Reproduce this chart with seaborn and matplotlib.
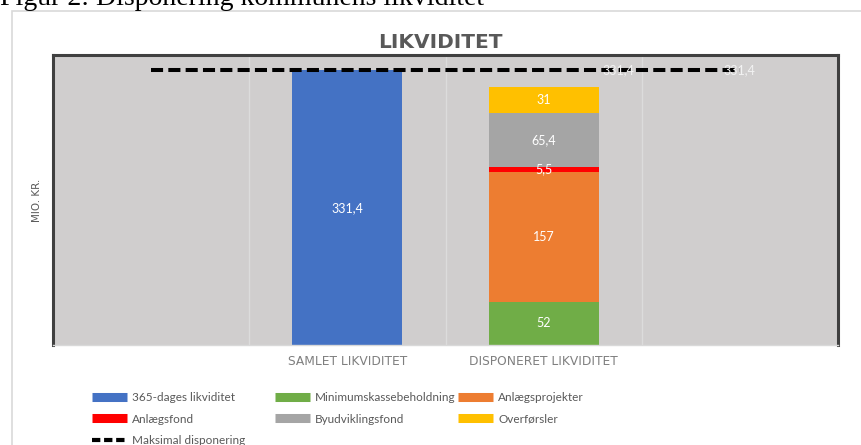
import numpy as np
import matplotlib
matplotlib.use("Agg")
import matplotlib.pyplot as plt
import seaborn as sns
from matplotlib.lines import Line2D
from matplotlib.patches import Rectangle

# ---------------- data ----------------
categories = ["blank_left", "SAMLET LIKVIDITET", "DISPONERET LIKVIDITET", "blank_right"]
tick_labels = ["", "SAMLET LIKVIDITET", "DISPONERET LIKVIDITET", ""]

likviditet_365 = [0, 331.4, 0, 0]
minimumskassebeholdning = [0, 0, 52, 0]
anlaegsprojekter = [0, 0, 157, 0]
anlaegsfond = [0, 0, 5.5, 0]
byudviklingsfond = [0, 0, 65.4, 0]
overfoersler = [0, 0, 31, 0]
maksimal_disponering = [331.4, 331.4, 331.4, 331.4]

series_names = ["365-dages likviditet", "Minimumskassebeholdning", "Anlægsprojekter",
                "Anlægsfond", "Byudviklingsfond", "Overførsler"]
line_name = "Maksimal disponering"
title = "LIKVIDITET"
ylabel = "MIO. KR."
caption = "Figur 2: Disponering kommunens likviditet"

# ---------------- style ----------------
colors = ["#4472C4", "#70AD47", "#ED7D31", "#FF0000", "#A5A5A5", "#FFC000"]
plt.rcParams["font.family"] = ["Lato", "DejaVu Sans"]


def fmt(v):
    return f"{v:g}".replace(".", ",")


fig = plt.figure(figsize=(8.61, 4.45), dpi=100)
fig.patch.set_facecolor("white")
ax = fig.add_axes([53 / 861, 100 / 445, 785 / 861, 290 / 445])
ax.set_facecolor("#D0CECE")

series = [likviditet_365, minimumskassebeholdning, anlaegsprojekter,
          anlaegsfond, byudviklingsfond, overfoersler]
bottom = np.zeros(len(categories))
for vals, col in zip(series, colors):
    sns.barplot(x=categories, y=vals, order=categories, color=col, width=0.56,
                bottom=bottom.copy(), saturation=1, errorbar=None, linewidth=0,
                ax=ax, zorder=2)
    for i, v in enumerate(vals):
        if v > 0:
            ax.text(i, bottom[i] + v / 2, fmt(v), ha="center", va="center",
                    color="white", fontsize=9, zorder=6)
    bottom = bottom + np.array(vals)

sns.lineplot(x=np.arange(len(categories)), y=maksimal_disponering, ax=ax,
             color="black", lw=2.9, linestyle=(0, (3.0, 1.3)), zorder=4)
ax.text(2.38, maksimal_disponering[2], fmt(maksimal_disponering[2]), ha="center",
        va="center", color="#F2F2F2", fontsize=9, zorder=6)
ax.text(3, maksimal_disponering[3], fmt(maksimal_disponering[3]), ha="center",
        va="center", color="#F2F2F2", fontsize=9, zorder=6)

ax.set_xlim(-0.5, len(categories) - 0.5)
ax.set_ylim(0, 350)
ax.set_xticks(range(len(categories)))
ax.set_xticklabels(tick_labels, color="#7F7F7F", fontsize=8.8,
                   family=["DejaVu Sans"])
ax.set_xticks([0.5, 1.5, 2.5], minor=True)
ax.grid(False)
ax.grid(True, which="minor", axis="x", color="#DCDCDC", lw=1)
ax.set_axisbelow(True)
ax.set_yticks([])
ax.tick_params(axis="both", which="both", length=0)
ax.tick_params(axis="x", pad=7)
ax.set_xlabel("")
ax.set_ylabel(ylabel, color="#595959", fontsize=7.5, family=["DejaVu Sans"])
ax.yaxis.set_label_coords(-11 / 785, 0.5)
for s in ["left", "top", "right"]:
    ax.spines[s].set_color("#404040")
    ax.spines[s].set_linewidth(2.2)
ax.spines["bottom"].set_color("#D9D9D9")
ax.spines["bottom"].set_linewidth(1)

# title & caption
fig.text(440 / 861, 1 - 43 / 445, title, ha="center", va="center",
         fontsize=14.5, fontweight="bold", color="#595959",
         family=["DejaVu Sans"])
fig.text(0, 1 - 5 / 445, caption, ha="left", va="baseline", fontsize=20,
         family=["Liberation Serif", "DejaVu Serif"], color="black")

# chart border
fig.add_artist(Rectangle((12 / 861, -0.05), 1.0, (445 - 11) / 445 + 0.05,
                         transform=fig.transFigure, fill=False,
                         edgecolor="#D9D9D9", lw=1.2))

# legends (3 columns, row-major order as in reference)
def bar_handle(c):
    return Line2D([0], [0], color=c, lw=6.5, solid_capstyle="butt")

dash_handle = Line2D([0], [0], color="black", lw=3, linestyle=(0, (2.0, 0.9)))
legend_cols = [
    ([bar_handle(colors[0]), bar_handle(colors[3]), dash_handle],
     [series_names[0], series_names[3], line_name], 92),
    ([bar_handle(colors[1]), bar_handle(colors[4])],
     [series_names[1], series_names[4]], 275),
    ([bar_handle(colors[2]), bar_handle(colors[5])],
     [series_names[2], series_names[5]], 458),
]
for handles, labels, xpx in legend_cols:
    fig.legend(handles, labels, loc="upper left",
               bbox_to_anchor=(xpx / 861, 1 - 392 / 445), frameon=False,
               fontsize=8.5, handlelength=3.0, handletextpad=0.4,
               labelspacing=0.9, borderpad=0, borderaxespad=0,
               labelcolor="#595959")

fig.savefig("out.png", dpi=100)
